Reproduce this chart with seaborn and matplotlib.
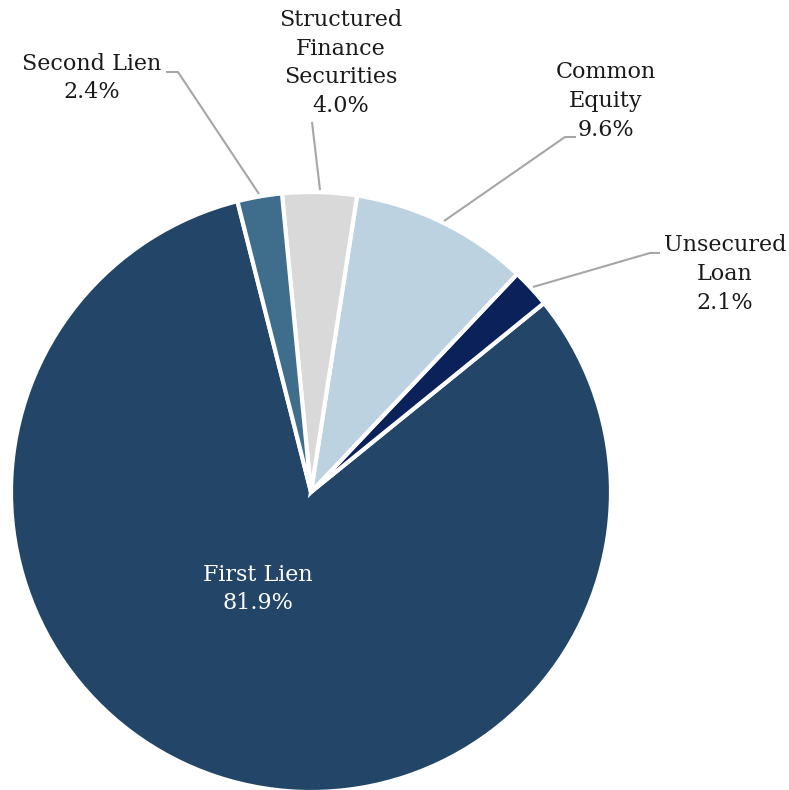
import matplotlib
matplotlib.use("Agg")
import matplotlib.pyplot as plt
import seaborn as sns

sns.set_theme(style="white")
plt.rcParams["font.family"] = ["DejaVu Serif"]

categories = ["First Lien", "Unsecured Loan", "Common Equity",
              "Structured Finance Securities", "Second Lien"]
shares = [81.9, 2.1, 9.6, 4.0, 2.4]
label_text = ["First Lien", "Unsecured\nLoan", "Common\nEquity",
              "Structured\nFinance\nSecurities", "Second Lien"]
colors = sns.color_palette(["#234567", "#0b2159", "#bdd2e1", "#d9d9d9", "#3f6d8c"])

fig = plt.figure(figsize=(7.89, 7.90), dpi=100)
ax = fig.add_axes([0, 0, 1, 1])

cx, cy, r = 311, 298, 300
wedges, _ = ax.pie(shares, colors=colors, startangle=104.2, counterclock=True,
                   center=(cx, cy), radius=r, frame=True,
                   wedgeprops=dict(edgecolor="white", linewidth=3))
ax.set_xlim(0, 789)
ax.set_ylim(0, 790)
ax.set_aspect("equal")
ax.axis("off")

fs = 16
ls = 1.39
line_col = "#a6a6a6"

# label for the large slice sits inside it
ax.text(258, 790 - 589, f"{label_text[0]}\n{shares[0]:.1f}%", ha="center", va="center",
        color="white", fontsize=fs, linespacing=ls)

# outside labels: (text position, leader points) in pixel space (y from top)
outside = {
    1: ((725, 274), [(533, 287), (650, 253), (660, 253)]),
    2: ((606, 101), [(444, 221), (565, 137), (576, 137)]),
    3: ((341, 63), [(320, 190), (312, 122)]),
    4: ((92, 78), [(259, 194), (178, 72), (166, 72)]),
}
for i, ((tx, ty), pts) in outside.items():
    ax.text(tx, 790 - ty, f"{label_text[i]}\n{shares[i]:.1f}%", ha="center", va="center",
            color="#1a1a1a", fontsize=fs, linespacing=ls)
    xs = [p[0] for p in pts]
    ys = [790 - p[1] for p in pts]
    ax.plot(xs, ys, color=line_col, linewidth=1.5, solid_capstyle="butt")

fig.savefig("out.png", dpi=100, facecolor="white")
